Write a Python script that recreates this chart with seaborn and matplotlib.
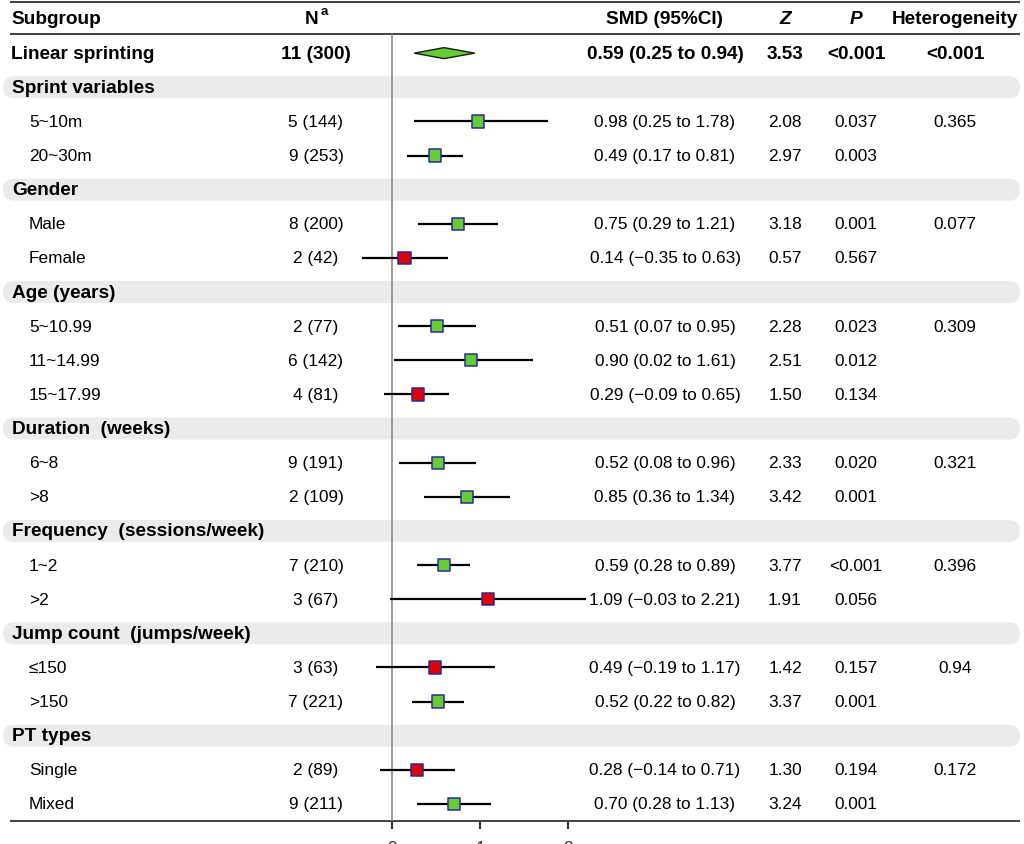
import numpy as np
import pandas as pd
import matplotlib
matplotlib.use("Agg")
import matplotlib.pyplot as plt
import matplotlib.transforms as mtransforms
from matplotlib.patches import FancyBboxPatch, Polygon
import seaborn as sns

# ---------------- data ----------------
headers = ["Subgroup", "N", "SMD (95%CI)", "Z", "P", "Heterogeneity"]

overall_label = "Linear sprinting"
overall_studies = 11
overall_participants = 300
overall_smd = 0.59
overall_lo = 0.25
overall_hi = 0.94
overall_z = "3.53"
overall_p = "<0.001"
overall_het = "<0.001"

groups = ["Sprint variables", "Gender", "Age (years)", "Duration  (weeks)",
          "Frequency  (sessions/week)", "Jump count  (jumps/week)", "PT types"]
group_het = ["0.365", "0.077", "0.309", "0.321", "0.396", "0.94", "0.172"]

labels = ["5~10m", "20~30m", "Male", "Female", "5~10.99", "11~14.99", "15~17.99",
          "6~8", ">8", "1~2", ">2", "≤150", ">150", "Single", "Mixed"]
group_of = [0, 0, 1, 1, 2, 2, 2, 3, 3, 4, 4, 5, 5, 6, 6]
studies = [5, 9, 8, 2, 2, 6, 4, 9, 2, 7, 3, 3, 7, 2, 9]
participants = [144, 253, 200, 42, 77, 142, 81, 191, 109, 210, 67, 63, 221, 89, 211]
smd = [0.98, 0.49, 0.75, 0.14, 0.51, 0.90, 0.29, 0.52, 0.85, 0.59, 1.09, 0.49, 0.52, 0.28, 0.70]
lo = [0.25, 0.17, 0.29, -0.35, 0.07, 0.02, -0.09, 0.08, 0.36, 0.28, -0.03, -0.19, 0.22, -0.14, 0.28]
hi = [1.78, 0.81, 1.21, 0.63, 0.95, 1.61, 0.65, 0.96, 1.34, 0.89, 2.21, 1.17, 0.82, 0.71, 1.13]
zvals = ["2.08", "2.97", "3.18", "0.57", "2.28", "2.51", "1.50", "2.33", "3.42",
         "3.77", "1.91", "1.42", "3.37", "1.30", "3.24"]
pvals = ["0.037", "0.003", "0.001", "0.567", "0.023", "0.012", "0.134", "0.020",
         "0.001", "<0.001", "0.056", "0.157", "0.001", "0.194", "0.001"]
xticks = [0, 1, 2]

# ---------------- style ----------------
sns.set_theme(style="white")
plt.rcParams["font.family"] = ["Liberation Sans", "DejaVu Sans"]
plt.rcParams["text.color"] = "black"

W, H = 1024, 845
fig = plt.figure(figsize=(W / 100, H / 100), dpi=100)
ax = fig.add_axes([0, 0, 1, 1])
ax.axis("off")

Y0, DY = 20.0, 34.13          # pixel of row 0 and row spacing
X0, DX = 392.3, 87.7          # pixel of SMD 0 and px per unit
ax.set_xlim(-X0 / DX, (W - X0) / DX)
ax.set_ylim((H - Y0) / DY, -Y0 / DY)

def row_of_px(py):
    return (py - Y0) / DY

def x_of_px(xp):
    return (xp - X0) / DX

bt = mtransforms.blended_transform_factory(ax.transAxes, ax.transData)
def px(xp):
    return xp / W

FS = 12.4
FSB = 13.7
COL_N = 316
COL_SMD = 665
COL_Z = 785
COL_P = 856
COL_H = 955

def fmt(v):
    s = f"{v:.2f}"
    return s.replace("-", "\u2212")

# --------- build row layout ---------
rows_item = []
group_rows = []
r = 2
for g in range(len(groups)):
    group_rows.append(r)
    r += 1
    for i in range(len(labels)):
        if group_of[i] == g:
            rows_item.append(r)
            r += 1

df = pd.DataFrame({
    "label": labels, "row": rows_item, "smd": smd, "lo": lo, "hi": hi,
    "sig": ["yes" if l > 0 else "no" for l in lo],
})

# --------- gray bands ---------
for gr in group_rows:
    yc = Y0 + DY * gr
    band = FancyBboxPatch((3 / 100, (H - yc - 11) / 100), 1017 / 100, 22 / 100,
                          boxstyle="round,pad=0,rounding_size=0.11",
                          transform=fig.dpi_scale_trans, facecolor="#ebebeb",
                          edgecolor="none", zorder=0.5)
    ax.add_artist(band)

# --------- rules ---------
xl, xr = x_of_px(10), x_of_px(1020)
ax.hlines(row_of_px(2.5), xl, xr, color="#333333", lw=1.3, zorder=2)
ax.hlines(row_of_px(35), xl, xr, color="#333333", lw=1.3, zorder=2)
ax.hlines(row_of_px(822.5), xl, xr, color="#333333", lw=1.3, zorder=2)
ax.vlines(0, row_of_px(35), row_of_px(822.5), color="#8c8c8c", lw=1.2, zorder=3)
for t in xticks:
    ax.vlines(t, row_of_px(822.5), row_of_px(830.5), color="#333333", lw=1.5, zorder=2)
    ax.text(t, row_of_px(841.5), str(t), ha="center", va="top", fontsize=FS, color="#333333")

# --------- header ---------
hy = 0
ax.text(px(11), hy, headers[0], transform=bt, ha="left", va="center", fontsize=FSB, fontweight="bold")
ax.text(px(312), hy, headers[1], transform=bt, ha="center", va="center", fontsize=FSB, fontweight="bold")
ax.text(px(324), row_of_px(12), "a", transform=bt, ha="center", va="center", fontsize=9.5, fontweight="bold")
ax.text(px(COL_SMD), hy, headers[2], transform=bt, ha="center", va="center", fontsize=FSB, fontweight="bold")
ax.text(px(COL_Z), hy, headers[3], transform=bt, ha="center", va="center", fontsize=FSB, fontweight="bold", style="italic")
ax.text(px(COL_P), hy, headers[4], transform=bt, ha="center", va="center", fontsize=FSB, fontweight="bold", style="italic")
ax.text(px(COL_H), hy, headers[5], transform=bt, ha="center", va="center", fontsize=FSB, fontweight="bold")

# --------- overall row ---------
oy = 1
ax.text(px(11), oy, overall_label, transform=bt, ha="left", va="center", fontsize=FSB, fontweight="bold")
ax.text(px(COL_N), oy, f"{overall_studies} ({overall_participants})", transform=bt, ha="center", va="center", fontsize=FSB, fontweight="bold")
ax.text(px(COL_SMD), oy, f"{fmt(overall_smd)} ({fmt(overall_lo)} to {fmt(overall_hi)})", transform=bt, ha="center", va="center", fontsize=FSB, fontweight="bold")
ax.text(px(COL_Z), oy, overall_z, transform=bt, ha="center", va="center", fontsize=FSB, fontweight="bold")
ax.text(px(COL_P), oy, overall_p, transform=bt, ha="center", va="center", fontsize=FSB, fontweight="bold")
ax.text(px(COL_H), oy, overall_het, transform=bt, ha="center", va="center", fontsize=FSB, fontweight="bold")
hh = 5.5 / DY
diamond = Polygon([(overall_lo, oy), (overall_smd, oy - hh), (overall_hi, oy), (overall_smd, oy + hh)],
                  closed=True, facecolor="#66cc33", edgecolor="#1a1a1a", lw=1.0, zorder=4)
ax.add_patch(diamond)

# --------- group labels ---------
for g, gr in enumerate(groups):
    ax.text(px(12), group_rows[g], gr, transform=bt, ha="left", va="center", fontsize=FSB,
            fontweight="bold", zorder=6)

# --------- items ---------
first_in_group = {}
for i in range(len(labels)):
    first_in_group.setdefault(group_of[i], i)
for i in range(len(labels)):
    y = rows_item[i]
    ax.text(px(29), y, labels[i], transform=bt, ha="left", va="center", fontsize=FS)
    ax.text(px(COL_N), y, f"{studies[i]} ({participants[i]})", transform=bt, ha="center", va="center", fontsize=FS)
    ax.text(px(COL_SMD), y, f"{fmt(smd[i])} ({fmt(lo[i])} to {fmt(hi[i])})", transform=bt, ha="center", va="center", fontsize=FS)
    ax.text(px(COL_Z), y, zvals[i], transform=bt, ha="center", va="center", fontsize=FS)
    ax.text(px(COL_P), y, pvals[i], transform=bt, ha="center", va="center", fontsize=FS)
    if first_in_group[group_of[i]] == i:
        ax.text(px(COL_H), y, group_het[group_of[i]], transform=bt, ha="center", va="center", fontsize=FS)

ax.hlines(df["row"], df["lo"], df["hi"], color="black", lw=1.6, zorder=3)
sns.scatterplot(data=df, x="smd", y="row", hue="sig", palette={"yes": "#66cc33", "no": "#e00000"},
                marker="s", s=78, edgecolor="#2b2b99", linewidth=1.1, legend=False, zorder=5, ax=ax)
ax.set_xlim(-X0 / DX, (W - X0) / DX)
ax.set_ylim((H - Y0) / DY, -Y0 / DY)
ax.axis("off")

fig.savefig("out.png", dpi=100)
